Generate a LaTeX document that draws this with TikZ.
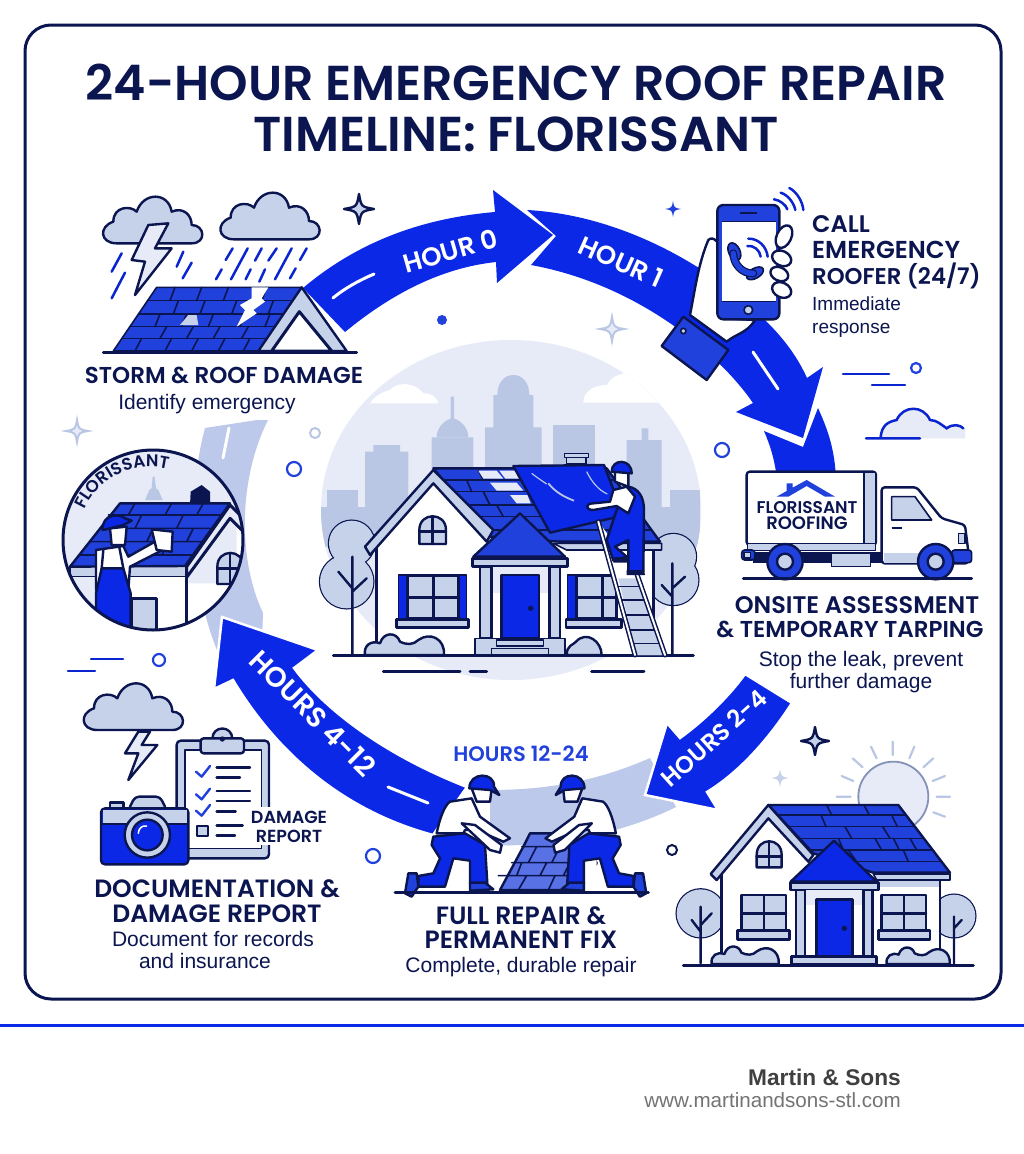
\documentclass[tikz,border=0pt]{standalone}
\usepackage{fontspec}
\usetikzlibrary{decorations.text}
\newfontfamily\headf{Poppins}[BoldFont={Poppins SemiBold}]
\newfontfamily\subf{Liberation Sans}
\newcommand\hdfont[1]{\fontsize{#1}{#1}\selectfont\headf\bfseries}
\newcommand\sbfont[1]{\fontsize{#1}{#1}\selectfont\subf}
\definecolor{navy}{HTML}{0B1550}
\definecolor{mainblue}{HTML}{0A28E6}
\definecolor{roofblue}{HTML}{2141DC}
\definecolor{pale}{HTML}{C6D1EA}
\definecolor{paler}{HTML}{E6EBF7}
\definecolor{skyb}{HTML}{B9C7E4}
\definecolor{band}{HTML}{BCC9EA}
\tikzset{
 ol/.style={draw=navy,line width=2.4pt,line join=round,line cap=round},
 olt/.style={draw=navy,line width=1.6pt,line join=round,line cap=round},
 bl/.style={draw=mainblue!85!navy,line width=2.5pt,line cap=round},
 hed/.style={text=navy,font=\hdfont{24},inner sep=0pt,anchor=base},
 sub/.style={text=navy,font=\sbfont{21},inner sep=0pt,anchor=base},
 onarrow/.style={text=white,font=\hdfont{26},inner sep=0pt},
 arrowfill/.style={fill=mainblue,draw=white,line width=2.5pt,line join=miter}
}
\newcommand\cloudat[5]{\path[#5,shift={(#1,#2)},xscale=#3,yscale=#4] (40,140) .. controls (-10,140) and (-15,90) .. (30,75) .. controls (30,30) and (80,25) .. (100,45) .. controls (120,-15) and (195,-15) .. (205,45) .. controls (240,30) and (265,55) .. (265,85) .. controls (305,85) and (310,140) .. (265,140) -- cycle;}
\newcommand\sparkle[4]{\path[#4,shift={(#1,#2)},scale=#3] (0,-1) .. controls (.15,-.15) .. (1,0) .. controls (.15,.15) .. (0,1) .. controls (-.15,.15) .. (-1,0) .. controls (-.15,-.15) .. (0,-1) -- cycle;}
\newcommand\bush[3]{\path[ol,fill=pale,shift={(#1,#2)},xscale=#3,yscale=#3] (0,0) .. controls (-5,-30) and (20,-45) .. (45,-35) .. controls (55,-70) and (95,-70) .. (105,-40) .. controls (125,-30) and (145,-30) .. (160,-45) .. controls (195,-70) and (240,-50) .. (237,0) -- cycle;}
\newcommand\workerfig{%
 \fill[white] (200,385) -- (245,385) -- (245,465) -- (200,482) -- cycle;
 \path[ol,fill=mainblue] (130,320) -- (225,310) -- (285,345) -- (292,460) -- (240,462) -- (240,392) -- (190,385) -- (165,470) -- (85,470) -- (85,438) -- (130,430) -- (150,385) -- (125,345) -- cycle;
 \path[ol,fill=white] (140,310) .. controls (150,260) and (165,225) .. (180,215) -- (245,205) -- (270,260) -- (360,325) -- (340,335) -- (255,298) -- (225,300) -- (220,310) -- cycle;
 \path[ol,fill=white] (215,280) -- (255,285) -- (335,345) -- (330,368) -- (300,360) -- cycle;
 \path[ol,fill=white] (245,175) -- (305,175) -- (300,215) -- (260,215) -- cycle;
 \path[ol,fill=mainblue] (238,175) .. controls (238,125) and (315,125) .. (312,170) -- (328,195) -- (300,180) -- cycle;
 \path[ol,fill=roofblue] (55,430) -- (80,430) -- (85,470) -- (65,500) -- (45,490) -- cycle;
 \path[ol,fill=roofblue] (240,458) -- (285,458) -- (310,478) -- (240,482) -- cycle;
}
\begin{document}
\begin{tikzpicture}[x=1pt,y=-1pt]
\useasboundingbox (0,0) rectangle (1024,1154);
\fill[white] (0,0) rectangle (1024,1154);
\draw[navy,line width=3pt,rounded corners=26pt] (25,25) rectangle (1001,999);
\draw[mainblue,line width=3pt] (0,1025) -- (1024,1025);
\node[hed,font=\hdfont{49}] (title1) at (516,100) {24-HOUR EMERGENCY ROOF REPAIR};
\node[hed,font=\hdfont{49}] (title2) at (516,151) {TIMELINE: FLORISSANT};
\node[text=black!75,font=\sbfont{22.7}\bfseries,anchor=base east,inner sep=0pt] (f1) at (901,1085) {Martin \& Sons};
\node[text=black!55,font=\sbfont{20.6},anchor=base east,inner sep=0pt] (f2) at (901,1107) {www.martinandsons-stl.com};
% ---- centre backdrop
\begin{scope}
\clip (511,510) ellipse [x radius=190,y radius=170];
\fill[paler] (300,330) rectangle (720,700);
\begin{scope}[shift={(320,340)},scale=1/3]
\fill[skyb] (20,450) rectangle (115,620);
\fill[skyb] (135,335) rectangle (265,620) (160,315) rectangle (240,335);
\fill[skyb] (335,292) rectangle (460,500) (392,170) rectangle (402,240);
\fill[skyb] (350,292) .. controls (350,255) and (385,235) .. (397,235) .. controls (410,235) and (445,255) .. (445,292) -- cycle;
\fill[skyb] (495,262) rectangle (665,500) (520,165) rectangle (640,262);
\fill[skyb] (532,165) .. controls (532,125) and (555,105) .. (580,105) .. controls (605,105) and (628,125) .. (628,165) -- cycle;
\fill[skyb] (700,255) rectangle (825,500);
\fill[skyb] (920,300) rectangle (1025,620) (965,265) rectangle (985,300);
\fill[skyb] (1050,450) rectangle (1140,620);
\fill[skyb] (0,500) rectangle (1140,620);
\fill[paler] (115,490) rectangle (135,500);
\fill[white] (150,190) .. controls (170,160) and (195,155) .. (210,150) .. controls (230,125) and (285,125) .. (310,160) .. controls (335,160) and (350,170) .. (355,190) -- cycle;
\fill[white] (790,188) .. controls (790,155) and (820,135) .. (860,135) .. controls (870,115) and (890,105) .. (910,100) -- (1160,60) -- (1160,188) -- cycle;
\end{scope}
\end{scope}
% ---- pale ring segments
\fill[band] (205,428) .. controls (188,490) and (190,585) .. (217,650) -- (262,640) -- (263,613) .. controls (238,560) and (238,480) .. (268,420) -- (257,420) -- cycle;
\draw[white,line width=3pt,line cap=round] (223,458) -- (229,428);
\fill[band] (650,758) .. controls (600,780) and (550,790) .. (490,790) -- (490,845) .. controls (560,848) and (630,830) .. (676,807) -- cycle;
\fill[band] (714,340) -- (722,325) -- (760,322) -- (735,345) -- cycle;
% ---- arrows
\fill[mainblue] (303,288) .. controls (360,240) and (425,218) .. (495,212) -- (493,190) -- (553,235) -- (497,283) -- (496,262) .. controls (440,268) and (390,295) .. (345,332) -- cycle;
\draw[white,line width=3pt,line cap=round] (333,298) .. controls (345,288) and (360,280) .. (374,274);
\fill[mainblue] (527,210) .. controls (620,215) and (710,265) .. (767,322) .. controls (785,340) and (798,358) .. (807,378) -- (823,367) -- (803,438) -- (736,412) -- (753,403) .. controls (720,355) and (640,285) .. (531,265) -- (556,236) -- cycle;
\draw[white,line width=3pt,line cap=round] (753,352) -- (778,389);
\fill[mainblue] (764,431) -- (803,447) -- (818,408) .. controls (828,430) and (835,450) .. (836,480) -- (777,480) .. controls (775,460) and (770,445) .. (764,431) -- cycle;
\path[arrowfill] (745,674) -- (792,703) .. controls (765,745) and (735,775) .. (707,792) -- (718,810) -- (645,795) -- (667,723) -- (680,738) .. controls (705,720) and (730,695) .. (745,674) -- cycle;
\path[arrowfill] (222,617) -- (318,650) -- (294,668) .. controls (325,710) and (385,755) .. (467,787) -- (433,835) .. controls (340,810) and (275,750) .. (233,680) -- (214,689) -- cycle;
\draw[white,line width=3pt,line cap=round] (388,787) -- (428,803);
\node[onarrow,rotate=16] (lhour0) at (450,251) {HOUR 0};
\node[onarrow,rotate=-24] (lhour1) at (621,262) {HOUR 1};
\node[onarrow,rotate=42,font=\hdfont{24}] (lhours24) at (714,738) {HOURS 2-4};
\node[onarrow,rotate=-45,font=\hdfont{28}] (lhours412) at (313,713) {HOURS 4-12};
% ---- decorations
\sparkle{359}{209}{15}{ol,fill=pale}
\sparkle{673}{209}{8}{fill=roofblue}
\sparkle{612}{329}{12}{draw=skyb,line width=2pt,fill=paler}
\sparkle{77}{431}{11}{draw=skyb,line width=2pt,fill=paler}
\sparkle{815}{741}{14}{ol,fill=pale}
\sparkle{780}{778}{9}{fill=pale}
\fill[roofblue] (442,320) circle[radius=5];
\draw[skyb,line width=2pt] (315,433) circle[radius=5];
\draw[roofblue,line width=2.2pt] (294,469) circle[radius=7];
\draw[roofblue,line width=2.2pt] (722,450) circle[radius=7];
\draw[roofblue,line width=2.2pt] (916,368) circle[radius=5];
\draw[roofblue,line width=2.2pt] (373,856) circle[radius=7];
\draw[navy,line width=2pt] (672,850) circle[radius=5];
\draw[roofblue,line width=2.2pt] (159,660) circle[radius=6];
\draw[bl] (843,374) -- (889,374) (872,385) -- (905,385);
\draw[bl] (91,659) -- (123,659) (68,671) -- (95,671);
% ---- storm scene
\begin{scope}[shift={(60,170)},scale=1/3]
\cloudat{130}{80}{1}{1}{ol,fill=pale}
\cloudat{482}{68}{1}{1}{ol,fill=pale}
\path[ol,fill=paler] (265,165) -- (325,160) -- (285,235) -- (335,235) -- (225,375) -- (255,275) -- (215,270) -- cycle;
\draw[bl] (185,250) -- (155,305) (195,308) -- (155,385) (370,245) -- (350,290) (395,278) -- (368,325);
\draw[bl] (518,235) -- (497,270) (563,235) -- (513,328) (605,235) -- (585,272) (650,235) -- (625,272) (695,235) -- (645,328) (740,235) -- (720,270) (485,298) -- (468,328) (572,298) -- (557,328) (615,298) -- (598,335) (707,295) -- (690,325);
\path[olt,fill=roofblue] (290,352) -- (725,352) -- (600,543) -- (160,543) -- cycle;
\draw[olt] (263,392) -- (699,392) (236,432) -- (673,432) (210,470) -- (648,470) (186,505) -- (625,505);
\draw[olt] (345,352) -- (330,392) (425,352) -- (410,392) (505,352) -- (490,392) (620,352) -- (605,392)
 (355,392) -- (340,432) (435,392) -- (420,432) (530,392) -- (515,432) (640,392) -- (625,432)
 (300,432) -- (285,470) (380,432) -- (365,470) (460,432) -- (445,470) (555,432) -- (540,470) (630,432) -- (615,470)
 (320,470) -- (300,505) (400,470) -- (380,505) (480,470) -- (460,505) (565,470) -- (545,505)
 (245,505) -- (225,543) (335,505) -- (315,543) (415,505) -- (395,543) (495,505) -- (475,543) (570,505) -- (550,543);
\path[fill=white] (575,352) -- (625,352) -- (605,385) -- (615,395) -- (580,420) -- (590,430) -- (530,470) -- (555,420) -- (540,405) -- (575,385) -- cycle;
\path[fill=pale] (360,465) -- (385,435) -- (410,435) -- (415,465) -- cycle;
\path[ol,fill=pale] (725,352) -- (860,543) -- (595,543) -- cycle;
\path[ol,line width=3pt,fill=white] (718,425) -- (815,543) -- (635,543) -- cycle;
\draw[ol,line width=3pt] (130,548) -- (890,548);
\end{scope}
\node[hed,font=\hdfont{23}] (t1a) at (224,383) {STORM \& ROOF DAMAGE};
\node[sub] (t1b) at (207,409) {Identify emergency};
% ---- phone scene
\begin{scope}[shift={(640,190)},scale=1/3]
\path[ol,fill=white] (150,375) .. controls (165,300) and (175,220) .. (205,150) .. controls (220,135) and (240,160) .. (250,190) -- (250,385) -- (345,390) .. controls (320,430) and (290,430) .. (260,455) -- cycle;
\path[ol,fill=roofblue] (130,380) -- (265,480) -- (200,570) -- (65,468) -- cycle;
\draw[olt,fill=pale] (130,423) circle[radius=8];
\path[ol,fill=roofblue,rounded corners=6pt] (232,45) rectangle (418,388);
\fill[white] (245,95) rectangle (408,335);
\draw[navy,line width=1.4pt] (245,95) -- (408,95) (245,335) -- (408,335);
\draw[navy,line width=2pt] (300,70) -- (350,70);
\draw[olt,fill=pale] (325,360) circle[radius=13];
\path[olt,fill=roofblue,rotate around={25:(283,185)}] (283,185) ellipse [x radius=17,y radius=28];
\path[olt,fill=roofblue,rotate around={-60:(345,250)}] (345,250) ellipse [x radius=15,y radius=28];
\draw[navy,line width=8pt,line cap=round] (280,190) .. controls (280,220) and (305,252) .. (340,250);
\draw[roofblue,line width=5.5pt,line cap=round] (280,190) .. controls (280,220) and (305,252) .. (340,250);
\draw[bl] (325,146) .. controls (355,145) and (380,170) .. (383,200) (322,168) .. controls (340,165) and (360,180) .. (362,200);
\draw[bl] (402,28) .. controls (420,30) and (438,45) .. (442,58) (422,8) .. controls (445,15) and (462,40) .. (466,60) (448,-6) .. controls (470,5) and (488,35) .. (490,60);
\foreach \a/\b/\c/\d in {432/140/22/36,425/205/30/22,418/252/28/20,425/300/30/22}
 \path[ol,fill=white,rotate around={-25:(\a,\b)}] (\a,\b) ellipse [x radius=\c,y radius=\d];
% cloud & truck
\path[fill=paler] (715,745) .. controls (725,705) and (745,695) .. (770,690) .. controls (790,645) and (850,645) .. (870,690) .. controls (890,690) and (905,705) .. (920,715) .. controls (940,700) and (960,705) .. (975,715) -- (975,745) -- cycle;
\draw[bl] (722,742) .. controls (725,705) and (745,695) .. (770,690) .. controls (790,645) and (850,645) .. (870,690) .. controls (890,690) and (905,705) .. (920,715) .. controls (940,700) and (960,705) .. (970,715) (678,745) -- (840,745);
\path[ol,fill=white,rounded corners=3pt] (320,845) rectangle (708,1065);
\path[olt,fill=pale] (672,848) rectangle (706,1062);
\path[olt,fill=pale] (322,1060) rectangle (706,1082);
\fill[navy] (340,1085) rectangle (730,1120);
\path[ol,fill=white,rounded corners=3pt] (725,1120) -- (725,892) -- (830,892) -- (905,985) -- (975,1005) -- (985,1085) -- (985,1120) -- cycle;
\path[olt,fill=pale] (755,920) -- (825,920) -- (875,990) -- (755,990) -- cycle;
\draw[navy,line width=2pt] (755,1015) -- (785,1015);
\path[olt,fill=pale] (955,1030) rectangle (975,1060);
\fill[pale] (732,1090) rectangle (840,1118);
\path[olt,fill=roofblue,rounded corners=3pt] (935,1080) rectangle (995,1118);
\path[olt,fill=roofblue,rounded corners=3pt] (305,1080) rectangle (345,1110);
\path[fill=pale,olt] (312,1088) rectangle (332,1104);
\path[olt,fill=pale] (575,1090) rectangle (692,1130);
\foreach \w in {435,887} {\path[ol,fill=roofblue] (\w,1115) circle[radius=53]; \path[ol,fill=pale] (\w,1115) circle[radius=24];}
\draw[ol,line width=3pt] (310,1166) -- (995,1166);
\fill[roofblue] (410,920) -- (440,903) -- (440,880) -- (458,880) -- (458,893) -- (500,870) -- (585,920) -- (555,920) -- (500,888) -- (445,920) -- cycle;
\end{scope}
\node[hed,font=\hdfont{17}] (tr1) at (807,513) {FLORISSANT};
\node[hed,font=\hdfont{18}] (tr2) at (807,529) {ROOFING};
\node[hed,anchor=base west,font=\hdfont{24}] (c1) at (812,232) {CALL};
\node[hed,anchor=base west,font=\hdfont{24.5}] (c2) at (812,258) {EMERGENCY};
\node[hed,anchor=base west,font=\hdfont{22.8}] (c3) at (812,284) {ROOFER (24/7)};
\node[sub,anchor=base west,font=\sbfont{19}] (c4) at (812,310) {Immediate};
\node[sub,anchor=base west,font=\sbfont{19}] (c5) at (812,333) {response};
\node[hed] (o1) at (857,613) {ONSITE ASSESSMENT};
\node[hed,font=\hdfont{23}] (o2) at (850,637) {\& TEMPORARY TARPING};
\node[sub] (o3) at (861,666) {Stop the leak, prevent};
\node[sub] (o4) at (861,688) {further damage};
% ---- centre house
\begin{scope}[shift={(320,340)},scale=1/3]
\draw[ol] (95,610) circle[radius=68] (80,725) circle[radius=80] (1060,650) circle[radius=68] (1060,720) circle[radius=75];
\fill[pale] (95,610) circle[radius=68] (80,725) circle[radius=80] (1060,650) circle[radius=68] (1060,720) circle[radius=75];
\draw[ol] (97,650) -- (97,945) (55,695) -- (97,745) (140,715) -- (97,755) (1057,670) -- (1057,945) (1025,735) -- (1057,770) (1095,710) -- (1057,745);
\path[fill=white] (170,945) -- (170,620) -- (340,430) -- (510,600) -- (1000,630) -- (1000,945) -- cycle;
\draw[ol] (170,945) -- (170,620) (1000,630) -- (1000,945);
\path[ol,fill=roofblue] (340,385) -- (860,385) -- (1020,605) -- (720,605) -- (510,590) -- cycle;
\draw[olt] (375,420) -- (880,420) (410,455) -- (905,455) (450,495) -- (935,495) (480,530) -- (960,530) (515,570) -- (990,570);
\draw[olt] (475,390) -- (490,420) (440,420) -- (455,455) (490,455) -- (510,495) (530,495) -- (550,530) (600,530) -- (625,570);
\path[fill=paler] (475,392) -- (530,392) -- (550,416) -- (490,416) -- cycle (538,392) -- (585,392) -- (600,416) -- (556,416) -- cycle (510,428) -- (590,428) -- (610,452) -- (530,452) -- cycle (570,465) -- (622,465) -- (632,490) -- (590,490) -- cycle;
\path[ol,fill=pale] (135,620) -- (340,390) -- (520,570) -- (500,605) -- (340,430) -- (150,645) -- cycle;
\path[olt,fill=pale] (700,610) -- (1025,610) -- (1025,630) -- (740,630) -- cycle;
\path[olt,fill=pale] (740,350) rectangle (798,372);
\path[olt,fill=pale] (733,340) rectangle (805,352);
\path[ol,fill=mainblue] (580,378) -- (852,375) -- (900,500) -- (895,530) -- (690,578) -- cycle;
\draw[skyb,line width=1.2pt] (635,400) .. controls (650,412) and (665,422) .. (680,432) (800,395) .. controls (815,425) and (835,450) .. (862,462);
\draw[skyb,line width=1.8pt] (685,430) .. controls (705,455) and (730,470) .. (762,482);
\path[ol,fill=pale] (298,612) -- (298,570) .. controls (298,515) and (378,515) .. (378,570) -- (378,612) -- cycle;
\draw[ol] (338,530) -- (338,612) (298,575) -- (378,575);
\path[ol,fill=roofblue] (460,650) -- (600,520) -- (735,650) -- cycle;
\path[ol,fill=pale] (458,655) rectangle (742,680);
\fill[paler] (515,680) rectangle (688,760);
\path[ol,fill=pale] (480,680) rectangle (515,895);
\path[ol,fill=pale] (688,680) rectangle (720,895);
\path[ol,fill=mainblue] (545,705) rectangle (657,895);
\fill[navy] (632,805) circle[radius=8];
\path[olt,fill=pale] (465,895) rectangle (735,945);
\path[olt,fill=pale] (530,900) rectangle (670,918);
\path[olt,fill=pale] (515,925) rectangle (685,945);
\path[olt,fill=mainblue] (235,705) rectangle (440,835);
\path[ol,fill=pale] (262,708) rectangle (415,835);
\draw[ol] (340,708) -- (340,835) (262,772) -- (415,772);
\path[ol,fill=pale] (230,838) rectangle (445,862);
\path[olt,fill=mainblue] (742,705) rectangle (890,835);
\path[ol,fill=pale] (770,708) rectangle (890,835);
\draw[ol] (848,708) -- (848,835) (770,772) -- (890,772);
\path[ol,fill=pale] (738,838) rectangle (905,862);
\bush{135}{945}{1}
\path[ol,fill=pale] (740,945) .. controls (740,915) and (760,915) .. (768,905) .. controls (800,870) and (845,905) .. (845,945) -- cycle;
\draw[ol,line width=3pt] (40,945) -- (1120,945) (190,993) -- (420,993) (450,993) -- (500,993) (815,993) -- (972,993);
% ladder
\fill[white] (835,545) -- (950,700) -- (1035,945) -- (945,945) -- cycle;
\fill[pale] (895,715) -- (955,715) -- (1030,945) -- (950,945) -- cycle;
\foreach \r/\s/\t in {740/889/964,780/899/978,825/912/993,870/924/1009,910/935/1023}
 \draw[olt] (\s,\r) -- (\t,\r);
\draw[navy,line width=5pt,line cap=round] (835,545) -- (945,945) (950,700) -- (1035,945);
\draw[white,line width=2pt,line cap=round] (835,545) -- (945,945) (950,700) -- (1035,945);
% worker
\path[ol,fill=mainblue] (925,440) .. controls (955,445) and (972,470) .. (972,510) -- (970,695) -- (925,695) -- (925,600) -- (885,620) -- (920,650) -- (880,662) -- (860,600) -- (890,510) -- cycle;
\path[ol,fill=white] (880,450) -- (920,440) -- (945,470) -- (925,520) -- (890,498) -- (820,510) .. controls (795,510) and (795,490) .. (820,490) -- (870,485) -- cycle;
\path[ol,fill=white] (885,395) -- (925,395) -- (925,440) -- (885,425) -- cycle;
\path[ol,fill=mainblue] (875,395) .. controls (875,355) and (935,355) .. (935,400) -- cycle;
\path[fill=navy] (880,652) -- (925,650) -- (925,668) -- (880,668) -- cycle (920,690) -- (972,690) -- (975,705) -- (920,705) -- cycle;
\end{scope}
% ---- Florissant badge
\begin{scope}
\clip (153,540) circle[radius=90];
\fill[paler] (153,540) circle[radius=90];
\begin{scope}[shift={(60,450)},scale=1/3]
\fill[skyb] (255,150) -- (268,120) -- (275,115) -- (278,80) -- (284,80) -- (288,115) -- (295,120) -- (308,150) -- cycle;
\fill[navy] (390,165) -- (392,125) -- (425,105) -- (450,125) -- (450,165) -- cycle;
\path[olt,fill=pale] (30,350) rectangle (380,380);
\path[fill=white] (380,380) -- (510,200) -- (570,265) -- (570,560) -- (380,560) -- cycle;
\fill[paler] (385,375) -- (510,205) -- (530,225) -- (530,400) -- (385,400) -- cycle;
\fill[white] (210,380) rectangle (380,560);
\path[ol,fill=roofblue] (180,160) -- (510,160) -- (375,348) -- (30,350) -- cycle;
\draw[olt] (145,195) -- (485,195) (120,235) -- (450,235) (90,275) -- (425,275) (60,315) -- (398,315) (225,160) -- (205,195) (335,160) -- (315,195) (430,160) -- (410,195) (245,195) -- (225,235) (370,195) -- (350,235) (190,235) -- (170,275) (280,235) -- (260,275) (400,235) -- (380,275) (330,275) -- (305,315);
\path[ol,fill=paler,line width=3pt] (510,165) -- (380,350) -- (380,382) -- (510,205) -- (570,265) -- (570,225) -- cycle;
\draw[ol] (380,382) -- (380,560);
\path[ol,fill=pale] (215,445) rectangle (290,540);
\path[ol,fill=pale] (472,402) -- (472,350) .. controls (472,295) and (550,295) .. (550,350) -- (550,402) -- cycle;
\draw[ol] (510,310) -- (510,402) (472,355) -- (550,355);
\path[ol,fill=white] (108,300) -- (190,288) -- (205,320) -- (290,272) -- (312,298) -- (210,350) -- (205,420) -- (108,420) -- cycle;
\path[ol,fill=mainblue] (125,355) -- (190,355) -- (212,430) -- (212,550) -- (108,550) -- (108,430) -- cycle;
\draw[ol] (130,300) -- (125,355) (178,292) -- (190,355);
\path[ol,fill=white] (150,235) -- (200,230) -- (195,285) -- (155,285) -- cycle;
\path[ol,fill=mainblue] (128,240) .. controls (125,190) and (180,190) .. (195,205) -- (215,212) -- (190,225) -- (130,240) -- cycle;
\path[ol,fill=white] (275,238) -- (338,245) -- (335,305) -- (290,300) -- cycle;
\end{scope}
\end{scope}
\draw[navy,line width=3pt] (153,540) circle[radius=90];
\path[decorate,decoration={text along path,text align=center,text={|\hdfont{17}\color{navy}|FLORISSANT}}] (80,524) arc[start angle=192,end angle=296,radius=72];
% ---- doc scene
\begin{scope}[shift={(70,670)},scale=1/3]
\cloudat{42}{40}{1}{1}{ol,fill=pale}
\path[ol,fill=paler] (205,185) -- (240,185) -- (215,225) -- (262,225) -- (175,330) -- (205,250) -- (165,250) -- cycle;
\path[ol,fill=pale,rounded corners=4pt] (320,212) rectangle (597,565);
\path[olt,fill=white] (345,240) rectangle (575,535);
\path[ol,fill=pale] (427,207) .. controls (427,165) and (487,165) .. (487,207) -- cycle;
\path[ol,fill=pale,rounded corners=3pt] (392,205) rectangle (522,250);
\fill[navy] (457,207) circle[radius=8];
\foreach \c in {0,68,117} \draw[roofblue,line width=2.4pt,line cap=round,line join=round] (378,{305+\c}) -- (395,{320+\c}) -- (420,{288+\c});
\path[ol,fill=pale,line width=2pt] (380,468) rectangle (413,498);
\draw[ol] (440,293) -- (540,293) (440,323) -- (510,323) (440,363) -- (540,363) (440,393) -- (540,393) (440,425) -- (497,425) (440,467) -- (518,467) (440,497) -- (495,497);
\fill[white] (522,412) rectangle (782,525);
\path[ol,fill=pale] (120,397) rectangle (160,420);
\path[ol,fill=pale,rounded corners=4pt] (175,420) -- (195,380) -- (270,380) -- (290,420) -- cycle;
\path[ol,fill=mainblue,rounded corners=4pt] (93,415) rectangle (355,583);
\path[fill=pale] (98,420) rectangle (350,460);
\draw[navy,line width=1.5pt] (95,462) -- (353,462);
\path[ol,fill=pale] (232,495) circle[radius=68];
\path[ol,fill=mainblue] (232,495) circle[radius=46];
\draw[white,line width=1.5pt,line cap=round] (205,490) .. controls (205,475) and (218,465) .. (230,468);
\end{scope}
\node[hed,font=\hdfont{17.5}] (d1) at (289,823) {DAMAGE};
\node[hed,font=\hdfont{17.5}] (d2) at (289,842) {REPORT};
\node[hed,font=\hdfont{25}] (d3) at (217,897) {DOCUMENTATION \&};
\node[hed,font=\hdfont{25}] (d4) at (217,922) {DAMAGE REPORT};
\node[sub] (d5) at (213,946) {Document for records};
\node[sub] (d6) at (205,968) {and insurance};
% ---- workers
\begin{scope}[shift={(390,730)},scale=1/3]
\path[ol,fill=roofblue!75!white] (330,480) -- (400,350) -- (420,310) -- (510,310) -- (595,345) -- (620,400) -- (560,480) -- cycle;
\draw[olt] (395,350) -- (600,350) (365,398) -- (620,398) (325,437) -- (590,437) (440,350) -- (415,398) (510,350) -- (485,398) (580,350) -- (560,398) (395,398) -- (380,437) (470,398) -- (450,437) (540,398) -- (520,437) (410,437) -- (385,480) (495,437) -- (475,480) (570,437) -- (550,480);
\workerfig
\begin{scope}[shift={(812,0)},xscale=-0.96]
\workerfig
\end{scope}
\draw[ol,line width=3pt] (15,487) -- (775,487);
\end{scope}
\node[hed,text=roofblue,font=\hdfont{21}] (h1224) at (521,761) {HOURS 12-24};
\node[hed,font=\hdfont{25}] (w1) at (521,924) {FULL REPAIR \&};
\node[hed,font=\hdfont{25}] (w2) at (521,948) {PERMANENT FIX};
\node[sub] (w3) at (521,972) {Complete, durable repair};
% ---- house bottom right
\begin{scope}[shift={(660,670)},scale=1/3]
\path[draw=skyb!70!navy,line width=1.8pt,fill=paler] (700,380) circle[radius=105];
\draw[skyb,line width=2.2pt,line cap=round] (530,380) -- (572,380) (545,318) -- (580,333) (578,265) -- (608,292) (633,230) -- (650,265) (698,215) -- (698,255) (763,230) -- (748,265) (820,265) -- (790,292) (855,318) -- (818,333) (870,380) -- (830,380) (855,440) -- (820,427);
\draw[ol] (122,730) circle[radius=72];
\fill[pale] (122,730) circle[radius=72];
\draw[ol] (882,738) circle[radius=64];
\fill[pale] (882,738) circle[radius=64];
\draw[ol] (122,710) -- (122,880) (95,750) -- (122,785) (155,730) -- (122,765) (882,740) -- (882,880) (905,750) -- (882,775);
\path[fill=white] (185,880) -- (185,610) -- (325,445) -- (470,590) -- (840,630) -- (840,880) -- cycle;
\fill[pale] (645,630) rectangle (838,650);
\draw[ol] (185,880) -- (185,610) (840,630) -- (840,880);
\path[ol,fill=roofblue] (325,405) -- (715,405) -- (870,608) -- (640,608) -- (460,550) -- cycle;
\draw[olt] (355,435) -- (738,435) (390,470) -- (765,470) (425,505) -- (792,505) (450,540) -- (818,540) (590,575) -- (845,575);
\draw[olt] (500,405) -- (515,435) (612,405) -- (628,435) (483,435) -- (498,470) (695,435) -- (712,470) (555,470) -- (575,505) (668,470) -- (690,505) (535,505) -- (550,540) (645,505) -- (665,540) (700,505) -- (718,540) (750,505) -- (770,540) (565,540) -- (590,575) (730,540) -- (745,575);
\path[olt,fill=pale] (640,612) -- (870,612) -- (870,630) -- (650,630) -- cycle;
\path[ol,fill=pale] (152,612) -- (325,405) -- (460,555) -- (445,575) -- (325,445) -- (170,630) -- cycle;
\path[ol,fill=pale] (290,592) -- (290,555) .. controls (290,500) and (365,500) .. (365,555) -- (365,592) -- cycle;
\draw[ol] (327,518) -- (327,592) (290,560) -- (365,560);
\path[ol,fill=mainblue] (392,635) -- (522,512) -- (650,635) -- cycle;
\path[ol,fill=pale] (392,638) rectangle (655,660);
\fill[paler] (435,660) rectangle (610,705);
\path[ol,fill=pale] (408,660) rectangle (435,860);
\path[ol,fill=pale] (610,660) rectangle (637,860);
\path[ol,fill=mainblue] (470,688) rectangle (578,860);
\fill[navy] (553,775) circle[radius=8];
\path[ol,fill=pale] (245,675) rectangle (378,780);
\draw[ol] (312,675) -- (312,780) (245,730) -- (378,730);
\path[ol,fill=pale] (232,782) rectangle (388,808);
\path[ol,fill=pale] (665,675) rectangle (798,780);
\draw[ol] (732,675) -- (732,780) (665,730) -- (798,730);
\path[ol,fill=pale] (655,782) rectangle (810,808);
\bush{155}{882}{0.85}
\bush{680}{882}{0.8}
\path[ol,fill=pale] (395,860) rectangle (650,882);
\draw[ol,line width=3pt] (70,885) -- (940,885);
\end{scope}
\end{tikzpicture}
\end{document}
